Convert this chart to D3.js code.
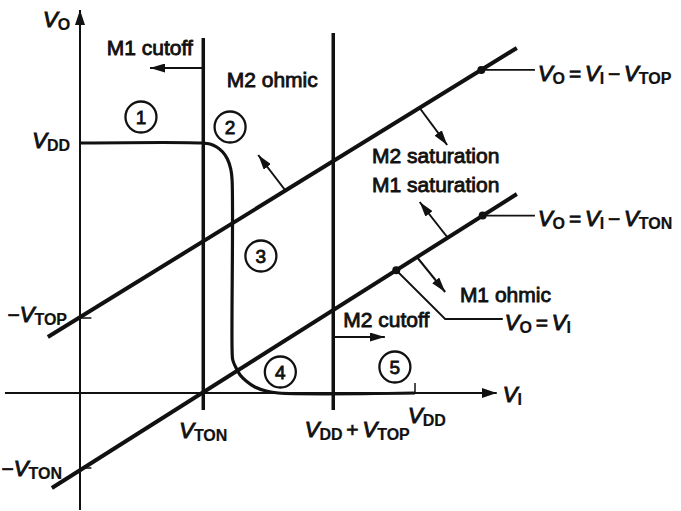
<!DOCTYPE html>
<html>
<head>
<meta charset="utf-8">
<script src="https://cdn.jsdelivr.net/npm/d3@7"></script>
<style>
  body { margin: 0; background: #fff; }
  text { font-family: "Liberation Sans", Arial, Helvetica, sans-serif; fill: #111; }
</style>
</head>
<body>
<svg id="chart" width="681" height="511"></svg>
<script>
// CMOS inverter: transfer characteristic and transistor operating regions.
// Voltages normalised so that VDD = 5.
const VDD = 5;
const VTON = 1.84;        // NMOS threshold on the VI axis
const VDD_VTOP = 3.78;    // VDD + VTOP on the VI axis
const NEG_VTOP = 1.5;     // -VTOP on the VO axis
const NEG_VTON = -1.5;    // -VTON on the VO axis

// Axis extents
const viRange = [-1.12, 6.22];
const voRange = [-2.34, 7.66];

// Transfer curve VO(VI)
const curveVI = [0, 1.82, 1.94, 2.04, 2.13, 2.2, 2.25, 2.27, 2.27, 2.28, 2.33, 2.39, 2.48, 2.61, 2.78, 2.96, 5];
const curveVO = [5, 5, 4.98, 4.92, 4.82, 4.68, 4.48, 4.26, 0.86, 0.66, 0.5, 0.36, 0.24, 0.12, 0.04, 0, 0];

// Boundary lines VO = VI - VTOP and VO = VI - VTON (end points)
const topLineVI = [-0.48, 6.52];
const topLineVO = [1.12, 6.9];
const tonLineVI = [-0.42, 6.52];
const tonLineVO = [-1.9, 3.98];

// Vertical boundaries VI = VTON and VI = VDD + VTOP
const vBoundVI = [VTON, VDD_VTOP];
const vBoundVO = [[-0.34, 7.1], [-0.34, 7.2]];

// Region arrows [fromVI, fromVO, toVI, toVO]
const regionArrows = [
  [VTON, 6.5, 1.045, 6.5],          // M1 cutoff
  [VDD_VTOP, 1.12, 4.55, 1.12],     // M2 cutoff
  [3.06, 4.06, 2.66, 4.76],         // off VO = VI - VTOP, up
  [5.07, 5.7, 5.48, 4.96],          // off VO = VI - VTOP, down
  [5.48, 3.12, 5.07, 3.82],         // off VO = VI - VTON, up
  [5.04, 2.7, 5.45, 2.02]           // off VO = VI - VTON, down
];

// Region names [text, VI, VO]
const regionNames = [
  ["M1 cutoff", 0.40, 6.76],
  ["M2 ohmic", 2.19, 6.12],
  ["M2 saturation", 4.36, 4.6],
  ["M1 saturation", 4.36, 4.02],
  ["M1 ohmic", 5.67, 1.82],
  ["M2 cutoff", 3.93, 1.32]
];

// Circled region numbers [n, VI, VO]
const regionNums = [
  ["1", 0.91, 5.52],
  ["2", 2.24, 5.32],
  ["3", 2.70, 2.74],
  ["4", 2.99, 0.42],
  ["5", 4.70, 0.52]
];

// Marked points on the boundary lines, with leader lines to their equations
const topDotVI = 5.99, tonDotVI = 6.01, eqDotVI = 4.72;
const leaderEndVI = 6.79;
const eqElbow = [5.45, 1.48], eqEnd = [6.31, 1.48];

const svg = d3.select("#chart");
const x = d3.scaleLinear().domain([0, VDD]).range([80, 415]);
const y = d3.scaleLinear().domain([0, VDD]).range([393, 143]);

const lerp = (xs, ys, v) => ys[0] + (ys[1] - ys[0]) * (v - xs[0]) / (xs[1] - xs[0]);

const defs = svg.append("defs");
function arrowMarker(id, len, half) {
  defs.append("marker")
    .attr("id", id).attr("markerUnits", "userSpaceOnUse")
    .attr("viewBox", `0 ${-half} ${len} ${2 * half}`)
    .attr("refX", len).attr("refY", 0)
    .attr("markerWidth", len).attr("markerHeight", 2 * half)
    .attr("orient", "auto")
    .append("path").attr("d", `M0,${-half}L${len},0L0,${half}Z`).attr("fill", "#111");
}
arrowMarker("axisHead", 15, 5);
arrowMarker("head", 15, 4.5);

const g = svg.append("g");

// axes
g.append("line")
  .attr("x1", x(viRange[0])).attr("x2", x(viRange[1]))
  .attr("y1", y(0)).attr("y2", y(0))
  .attr("stroke", "#111").attr("stroke-width", 2).attr("marker-end", "url(#axisHead)");
g.append("line")
  .attr("x1", x(0)).attr("x2", x(0))
  .attr("y1", y(voRange[0])).attr("y2", y(voRange[1]))
  .attr("stroke", "#111").attr("stroke-width", 2).attr("marker-end", "url(#axisHead)");

// small ticks
g.append("line").attr("x1", x(VDD)).attr("x2", x(VDD)).attr("y1", y(0)).attr("y2", y(0.2))
  .attr("stroke", "#111").attr("stroke-width", 1.5);
[NEG_VTOP, NEG_VTON].forEach(v => {
  g.append("line").attr("x1", x(0)).attr("x2", x(0.17)).attr("y1", y(v)).attr("y2", y(v))
    .attr("stroke", "#111").attr("stroke-width", 1.5);
});

// vertical boundaries
vBoundVI.forEach((v, i) => {
  g.append("line").attr("x1", x(v)).attr("x2", x(v))
    .attr("y1", y(vBoundVO[i][0])).attr("y2", y(vBoundVO[i][1]))
    .attr("stroke", "#111").attr("stroke-width", 3.5);
});

// diagonal boundaries
[[topLineVI, topLineVO], [tonLineVI, tonLineVO]].forEach(([xs, ys]) => {
  g.append("line").attr("x1", x(xs[0])).attr("x2", x(xs[1]))
    .attr("y1", y(ys[0])).attr("y2", y(ys[1]))
    .attr("stroke", "#111").attr("stroke-width", 4);
});

// transfer curve
const line = d3.line().x(d => x(d[0])).y(d => y(d[1])).curve(d3.curveCatmullRom.alpha(0.5));
g.append("path")
  .attr("d", line(curveVI.map((v, i) => [v, curveVO[i]])))
  .attr("fill", "none").attr("stroke", "#111").attr("stroke-width", 3.2);

// region arrows
regionArrows.forEach(a => {
  g.append("line").attr("x1", x(a[0])).attr("y1", y(a[1])).attr("x2", x(a[2])).attr("y2", y(a[3]))
    .attr("stroke", "#111").attr("stroke-width", 2).attr("marker-end", "url(#head)");
});

// marked points and leaders
const topDot = [topDotVI, lerp(topLineVI, topLineVO, topDotVI)];
const tonDot = [tonDotVI, lerp(tonLineVI, tonLineVO, tonDotVI)];
const eqDot = [eqDotVI, lerp(tonLineVI, tonLineVO, eqDotVI)];
[[topDot, [leaderEndVI, topDot[1]]], [tonDot, [leaderEndVI, tonDot[1]]]].forEach(([p, q]) => {
  g.append("line").attr("x1", x(p[0])).attr("y1", y(p[1])).attr("x2", x(q[0])).attr("y2", y(q[1]))
    .attr("stroke", "#111").attr("stroke-width", 1.8);
});
g.append("path")
  .attr("d", d3.line().x(d => x(d[0])).y(d => y(d[1]))([eqDot, eqElbow, eqEnd]))
  .attr("fill", "none").attr("stroke", "#111").attr("stroke-width", 1.8);
[topDot, tonDot, eqDot].forEach(p => {
  g.append("circle").attr("cx", x(p[0])).attr("cy", y(p[1])).attr("r", 4).attr("fill", "#111");
});

// circled numbers
regionNums.forEach(([n, vi, vo]) => {
  g.append("circle").attr("cx", x(vi)).attr("cy", y(vo)).attr("r", 15.5)
    .attr("fill", "#fff").attr("stroke", "#111").attr("stroke-width", 2.3);
  g.append("text").attr("x", x(vi)).attr("y", y(vo) + 6.5)
    .attr("text-anchor", "middle").attr("font-size", 19)
    .attr("stroke", "#111").attr("stroke-width", 0.8).text(n);
});

// region names
regionNames.forEach(([t, vi, vo]) => {
  g.append("text").attr("x", x(vi)).attr("y", y(vo))
    .attr("font-size", 21).attr("stroke", "#111").attr("stroke-width", 0.85).text(t);
});

// symbolic labels: parts are [text, kind] with kind n = normal, i = italic V, s = subscript
function mathLabel(px, py, parts, anchor) {
  const t = g.append("text").attr("x", px).attr("y", py).attr("font-size", 21)
    .attr("text-anchor", anchor || "start").attr("stroke", "#111").attr("stroke-width", 0.7)
    .attr("word-spacing", -2);
  let low = false;
  parts.forEach(([s, k]) => {
    const sp = t.append("tspan").text(s);
    if (k === "i") sp.attr("font-style", "italic").attr("font-size", 22).attr("stroke-width", 1);
    if (k === "s") {
      sp.attr("font-size", 16).attr("font-weight", "bold").attr("stroke-width", 0.2);
      if (!low) { sp.attr("dy", 3); low = true; }
    } else if (low) { sp.attr("dy", -3); low = false; }
  });
  return t;
}

mathLabel(x(0) - 37, y(voRange[1]) + 17, [["V", "i"], ["O", "s"]]);
mathLabel(x(0) - 10, y(VDD) + 5, [["V", "i"], ["DD", "s"]], "end");
mathLabel(x(0) - 13, y(NEG_VTOP) + 4, [["\u2212", "n"], ["V", "i"], ["TOP", "s"]], "end");
mathLabel(x(0) - 18, y(NEG_VTON) + 8, [["\u2212", "n"], ["V", "i"], ["TON", "s"]], "end");
mathLabel(x(VTON), y(0) + 45, [["V", "i"], ["TON", "s"]], "middle");
mathLabel(x(VDD_VTOP) + 24, y(0) + 44, [["V", "i"], ["DD", "s"], [" + ", "n"], ["V", "i"], ["TOP", "s"]], "middle");
mathLabel(x(VDD) - 7, y(0) + 30, [["V", "i"], ["DD", "s"]]);
mathLabel(x(viRange[1]) + 6, y(0) + 9, [["V", "i"], ["I", "s"]]);
mathLabel(x(leaderEndVI) + 3, y(topDot[1]) + 11,
  [["V", "i"], ["O", "s"], [" = ", "n"], ["V", "i"], ["I", "s"], [" \u2212 ", "n"], ["V", "i"], ["TOP", "s"]]);
mathLabel(x(leaderEndVI) + 3, y(tonDot[1]) + 10,
  [["V", "i"], ["O", "s"], [" = ", "n"], ["V", "i"], ["I", "s"], [" \u2212 ", "n"], ["V", "i"], ["TON", "s"]]);
mathLabel(x(eqEnd[0]) + 2, y(eqEnd[1]) + 11, [["V", "i"], ["O", "s"], [" = ", "n"], ["V", "i"], ["I", "s"]]);
</script>
</body>
</html>
